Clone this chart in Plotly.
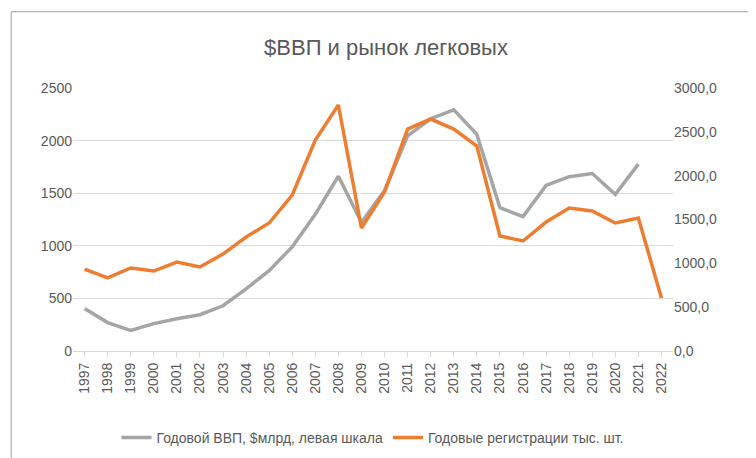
import plotly.graph_objects as go

years = [str(y) for y in range(1997, 2023)]
gdp = [405, 270, 196, 260, 306, 345, 430, 591, 764, 990, 1300, 1661, 1223, 1525,
       2046, 2208, 2292, 2059, 1363, 1277, 1574, 1657, 1687, 1489, 1776]
regs = [935, 833, 947, 912, 1015, 958, 1106, 1300, 1460, 1779, 2407, 2806, 1403, 1814,
        2532, 2646, 2532, 2338, 1312, 1255, 1471, 1631, 1597, 1460, 1517, 605]
left_ticks = [0, 500, 1000, 1500, 2000, 2500]
right_ticks = [0, 500, 1000, 1500, 2000, 2500, 3000]
right_text = [f"{v},0" for v in right_ticks]

fig = go.Figure()
fig.add_trace(go.Scatter(x=years[:len(gdp)], y=gdp, mode="lines",
                         line=dict(color="#a5a5a5", width=3.5),
                         name="Годовой ВВП, $млрд, левая шкала"))
fig.add_trace(go.Scatter(x=years, y=regs, mode="lines", yaxis="y2",
                         line=dict(color="#ed7d31", width=3.5),
                         name="Годовые регистрации тыс. шт."))

font = dict(family="Liberation Sans, Arial", color="#595959", size=14)
fig.update_layout(
    width=756, height=458, paper_bgcolor="white", plot_bgcolor="white",
    margin=dict(l=65, r=91, t=80, b=115), font=font,
    title=dict(text="$ВВП и рынок легковых", x=0.5, xanchor="center",
               y=0.915, yanchor="middle",
               font=dict(size=22, color="#595959")),
    xaxis=dict(type="category", tickangle=-90, showgrid=False,
               showline=True, linecolor="#d9d9d9", ticks="outside",
               tickcolor="#d9d9d9", ticklen=5, range=[-0.5, 25.5]),
    yaxis=dict(range=[0, 2500], tickvals=left_ticks, gridcolor="#d9d9d9",
               zeroline=False),
    yaxis2=dict(range=[0, 3000], tickvals=right_ticks, ticktext=right_text,
                overlaying="y", side="right", showgrid=False, zeroline=False),
    legend=dict(orientation="h", x=0.5, xanchor="center", y=-0.27, yanchor="top",
                font=dict(size=14)),
    shapes=[dict(type="rect", xref="paper", yref="paper", x0=-0.103, x1=1.145,
                 y0=-0.42, y1=1.29, line=dict(color="#a0a0a0", width=1))],
)
fig.write_html("out.html")
